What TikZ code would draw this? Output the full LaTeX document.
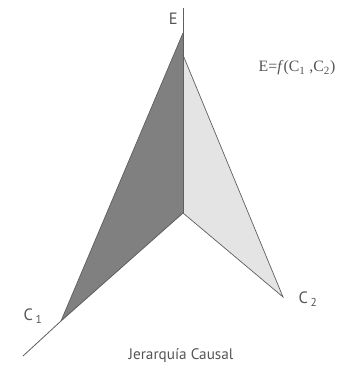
\documentclass[tikz,border=0pt]{standalone}
\usepackage{fontspec}
\setsansfont{PT Sans}
\newfontfamily\formfont{Liberation Serif}
\usetikzlibrary{positioning}
\definecolor{CauseDark}{RGB}{128,128,128}
\definecolor{CauseLight}{RGB}{228,228,228}
\definecolor{EdgeGray}{RGB}{95,95,95}
\definecolor{LabelGray}{RGB}{85,85,85}
\tikzset{axislabel/.style={font=\sffamily\fontsize{14}{14}\selectfont, text=LabelGray, inner sep=1pt}}

\begin{document}
\begin{tikzpicture}[x=0.03cm, y=0.03cm]
        \useasboundingbox (0,0) rectangle (341,365);
        \coordinate (O) at (183,152);
        \coordinate (Etop) at (183,357);
        \coordinate (A) at (183,332);
        \coordinate (B) at (183,310);
        \coordinate (C1) at (61,44);
        \coordinate (C1end) at (23,9);
        \coordinate (C2) at (283,68);
        \fill[CauseDark] (A)--(C1)--(O)--cycle;
        \fill[CauseLight] (B)--(C2)--(O)--cycle;
        \draw[EdgeGray, line width=0.6pt] (A)--(C1);
        \draw[EdgeGray, line width=0.6pt] (B)--(C2)--(O);
        \draw[EdgeGray, line width=0.7pt] (O)--(Etop);
        \draw[EdgeGray, line width=0.7pt] (O)--(C1)--(C1end);
        \node[axislabel, anchor=east] (labE) at (179,346) {E};
        \node[axislabel] (labC1) at (33,49) {C\,\textsubscript{1}};
        \node[axislabel] (labC2) at (308,66) {C\,\textsubscript{2}};
        \node[font=\formfont\fontsize{13.5}{13.5}\selectfont, text=LabelGray] (formula) at (297,297) {E=\textit{f}(C\textsubscript{1} ,C\textsubscript{2})};
        \node[axislabel, font=\sffamily\fontsize{13}{13}\selectfont] (title) at (181,9) {Jerarquía Causal};
      \end{tikzpicture}
\end{document}
